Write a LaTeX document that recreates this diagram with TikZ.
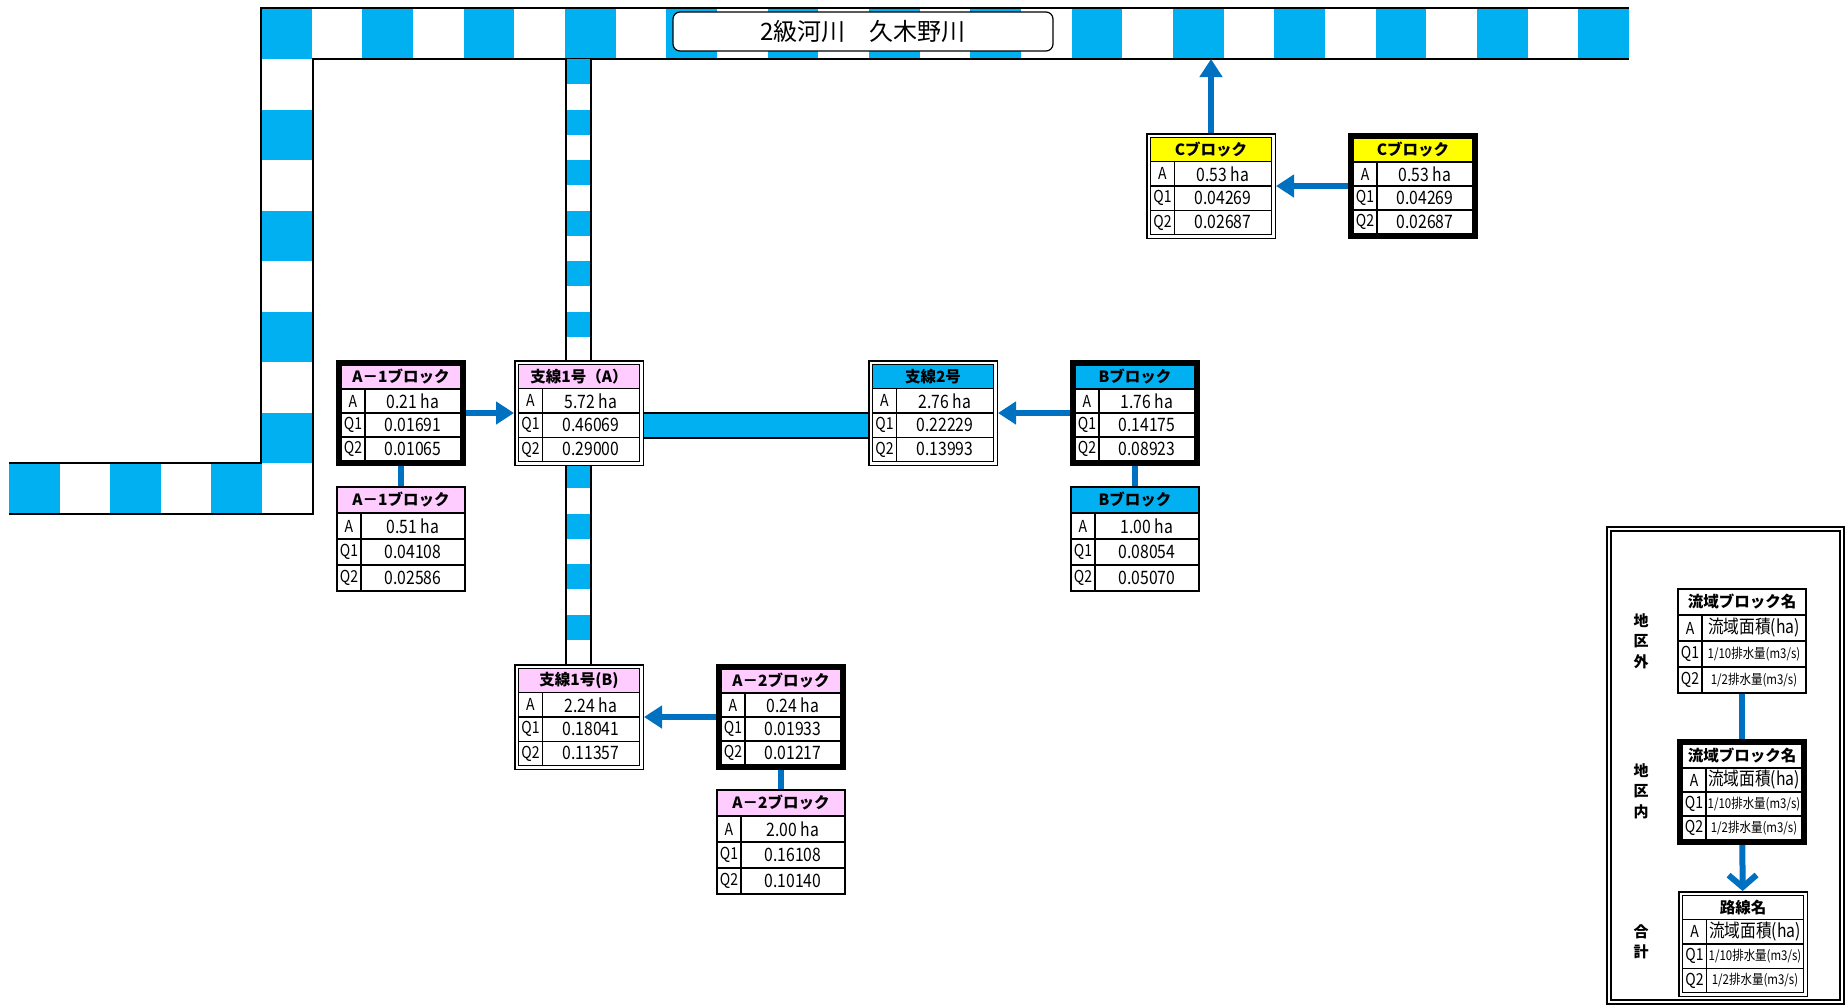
\documentclass[tikz,border=0pt]{standalone}
\usepackage{fontspec}
\setmainfont{Noto Sans CJK JP}
\newfontfamily\narrowfont{Noto Sans CJK JP}[FakeStretch=0.85]
\usetikzlibrary{arrows.meta}

\definecolor{rivblue}{RGB}{0,176,240}
\definecolor{arrblue}{RGB}{0,112,192}
\definecolor{pinkhd}{RGB}{255,204,255}
\definecolor{yellowhd}{RGB}{255,255,0}

\newcommand\fhd{\fontsize{15.5}{18}\selectfont\bfseries}
\newcommand\fval{\narrowfont\fontsize{18.5}{21}\selectfont}
\newcommand\flab{\narrowfont\fontsize{16.5}{19}\selectfont}
\newcommand\fsm{\narrowfont\fontsize{13.5}{15}\selectfont}

% inset of the table inside each kind of frame
\def\insblkthin{1}
\def\insblkthick{5}
\def\insblkdbl{4.5}

% #1 name, #2 x, #3 y, #4 frame, #5 header fill, #6 header, #7 A, #8 Q1, #9 Q2
\newcommand{\blk}[9]{%
  \node[blkbox,#4] (#1) at (#2,#3) {};
  \begin{scope}[shift={(#2,#3)}]
    \pgfmathsetmacro\halfw{65-\csname ins#4\endcsname}
    \pgfmathsetmacro\halfh{53-\csname ins#4\endcsname}
    \pgfmathsetmacro\colx{-\halfw+24}
    \fill[#5] (-\halfw,-\halfh) rectangle (\halfw,-\halfh/2);
    \draw[cell] (-\halfw,-\halfh/2) -- (\halfw,-\halfh/2)
                (-\halfw,0) -- (\halfw,0)
                (-\halfw,\halfh/2) -- (\halfw,\halfh/2)
                (\colx,-\halfh/2) -- (\colx,\halfh);
    \draw[cell] (-\halfw,-\halfh) rectangle (\halfw,\halfh);
    \node[font=\fhd] at (0,-0.75*\halfh) {#6};
    \node[font=\flab] at ({(\colx-\halfw)/2},-0.25*\halfh) {A};
    \node[font=\flab] at ({(\colx-\halfw)/2},0.25*\halfh) {Q1};
    \node[font=\flab] at ({(\colx-\halfw)/2},0.75*\halfh) {Q2};
    \node[font=\fval] at ({(\colx+\halfw)/2},-0.25*\halfh) {#7};
    \node[font=\fval] at ({(\colx+\halfw)/2},0.25*\halfh) {#8};
    \node[font=\fval] at ({(\colx+\halfw)/2},0.75*\halfh) {#9};
  \end{scope}}

\begin{document}
\begin{tikzpicture}[x=1pt,y=-1pt,
    blkbox/.style={minimum width=130pt,minimum height=106pt,inner sep=0pt,fill=white},
    blkthin/.style={},
    blkthick/.style={draw,line width=5pt,minimum width=125pt,minimum height=101pt},
    blkdbl/.style={draw,line width=1.5pt,minimum width=128.5pt,minimum height=104.5pt},
    cell/.style={draw=black,line width=1.3pt},
    rivline/.style={draw=black,line width=2.5pt},
    flow/.style={color=arrblue,line width=6pt,-{Triangle[length=18pt,width=22pt]}},
    flowdown/.style={color=arrblue,line width=6pt,-{Straight Barb[length=12pt,width=28pt]}},
    link/.style={color=arrblue,line width=6pt},
    titlebox/.style={draw,line width=1.2pt,rounded corners=7pt,fill=white,
      minimum width=380pt,minimum height=39pt,font=\fontsize{24}{26}\selectfont},
    side/.style={align=center,font=\fontsize{15}{20.5}\selectfont\bfseries}]

  \fill[white] (0,0) rectangle (1845,1005);
  \useasboundingbox (0,0) rectangle (1845,1005);

  % river
  \foreach \i in {0,2,...,26}
    \fill[rivblue] ({261+\i*50.667},8) rectangle ({261+(\i+1)*50.667},59);
  \foreach \k in {1,3,5,7}
    \fill[rivblue] (261,{59+\k*50.5}) rectangle (313,{59+(\k+1)*50.5});
  \foreach \k in {0,2,4}
    \fill[rivblue] ({9+\k*50.6},463) rectangle ({9+(\k+1)*50.6},514);
  \draw[rivline] (9,463) -- (261,463) -- (261,8) -- (1629,8);
  \draw[rivline] (9,514) -- (313,514) -- (313,59) -- (1629,59);
  \coordinate (cmouth) at (1211,59);

  \node[titlebox] (title) at (863,31.5) {2級河川　久木野川};

  % branch 1
  \foreach \k in {0,2,...,22}
    \fill[rivblue] (566,{59+\k*25.25}) rectangle (591,{59+(\k+1)*25.25});
  \draw[rivline,line width=2pt] (566,59) -- (566,664) (591,59) -- (591,664);

  % blocks
  \blk{a1u}{401}{413}{blkthick}{pinkhd}{A－1ブロック}{0.21 ha}{0.01691}{0.01065}
  \blk{a1l}{401}{539}{blkthin}{pinkhd}{A－1ブロック}{0.51 ha}{0.04108}{0.02586}
  \blk{s1a}{579}{413}{blkdbl}{pinkhd}{支線1号（A）}{5.72 ha}{0.46069}{0.29000}
  \blk{s2}{933}{413}{blkdbl}{rivblue}{支線2号}{2.76 ha}{0.22229}{0.13993}
  \blk{bu}{1135}{413}{blkthick}{rivblue}{Bブロック}{1.76 ha}{0.14175}{0.08923}
  \blk{bl}{1135}{539}{blkthin}{rivblue}{Bブロック}{1.00 ha}{0.08054}{0.05070}
  \blk{cl}{1211}{186}{blkdbl}{yellowhd}{Cブロック}{0.53 ha}{0.04269}{0.02687}
  \blk{cr}{1413}{186}{blkthick}{yellowhd}{Cブロック}{0.53 ha}{0.04269}{0.02687}
  \blk{s1b}{579}{717}{blkdbl}{pinkhd}{支線1号(B)}{2.24 ha}{0.18041}{0.11357}
  \blk{a2u}{781}{717}{blkthick}{pinkhd}{A－2ブロック}{0.24 ha}{0.01933}{0.01217}
  \blk{a2l}{781}{842}{blkthin}{pinkhd}{A－2ブロック}{2.00 ha}{0.16108}{0.10140}

  % branch 2
  \fill[rivblue] (s1a.east) rectangle ([yshift=-25pt]s2.west);
  \draw[rivline,line width=2pt] (s1a.east) -- (s2.west)
    ([yshift=-25pt]s1a.east) -- ([yshift=-25pt]s2.west);

  \path[flow]
    (a1u) edge (s1a)
    (bu) edge (s2)
    (cr) edge (cl)
    (cl) edge (cmouth)
    (a2u) edge (s1b);
  \path[link]
    (a1u) edge (a1l)
    (bu) edge (bl)
    (a2u) edge (a2l);

  % legend
  \draw[line width=1.5pt] (1607,527) rectangle (1844,1004);
  \draw[line width=1.5pt] (1611,531) rectangle (1840,1000);
  \blk{lg1}{1742}{641}{blkthin}{white}{流域ブロック名}{流域面積(ha)}{{\fsm 1/10排水量(m3/s)}}{{\fsm 1/2排水量(m3/s)}}
  \blk{lg2}{1742}{792}{blkthick}{white}{流域ブロック名}{流域面積(ha)}{{\fsm 1/10排水量(m3/s)}}{{\fsm 1/2排水量(m3/s)}}
  \blk{lg3}{1743}{944}{blkdbl}{white}{路線名}{流域面積(ha)}{{\fsm 1/10排水量(m3/s)}}{{\fsm 1/2排水量(m3/s)}}
  \node[side] (out) at (1641,641) {地\\区\\外};
  \node[side] (in) at (1641,791) {地\\区\\内};
  \node[side] (sum) at (1641,942) {合\\計};
  \path[link] (lg1) edge (lg2);
  \path[flowdown] (lg2) edge (lg3);
\end{tikzpicture}
\end{document}
